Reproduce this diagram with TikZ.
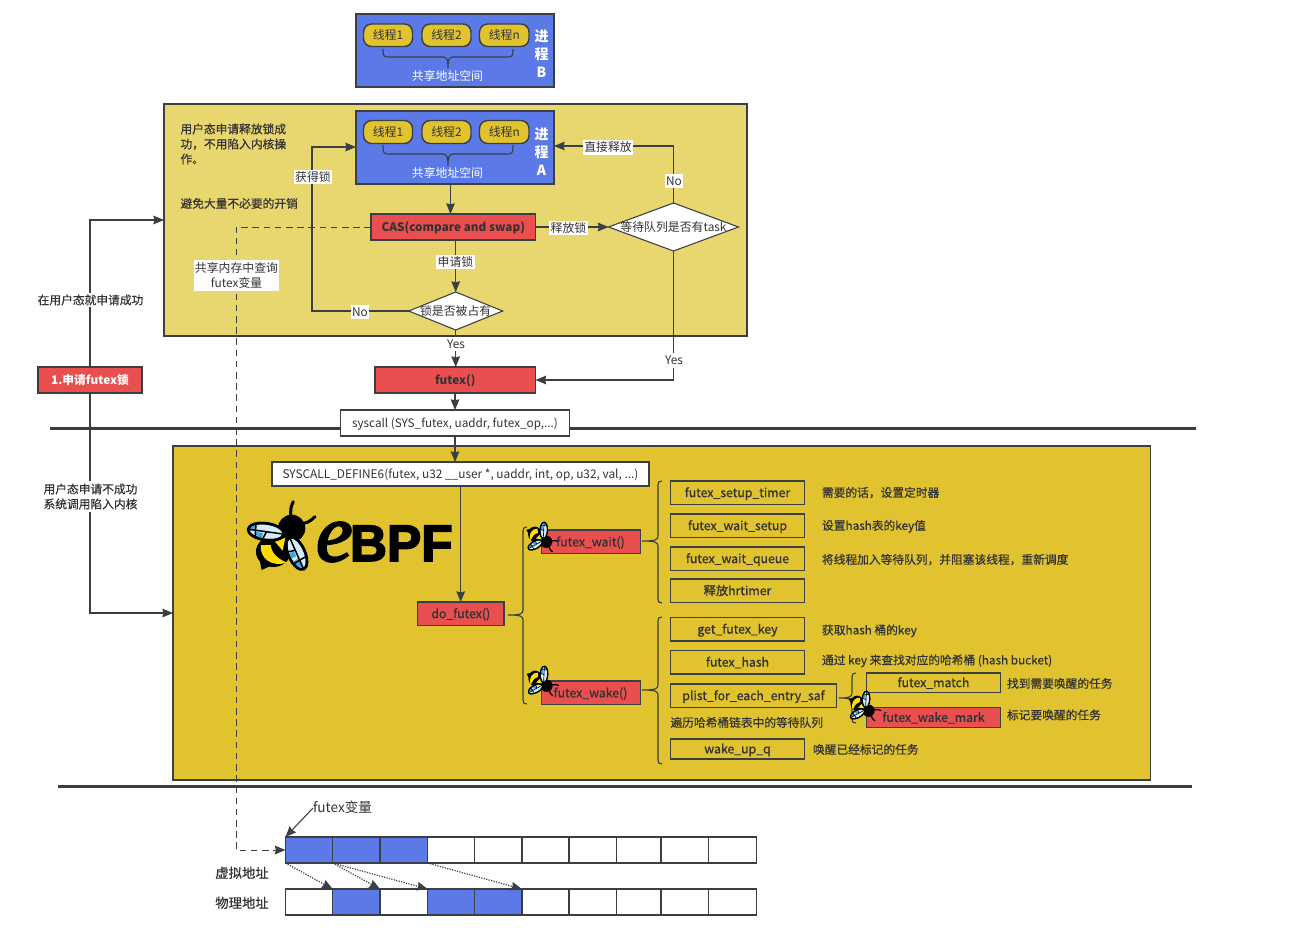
\documentclass[tikz,border=0pt]{standalone}
\usepackage{fontspec}
\setmainfont{Noto Sans CJK SC}
\newfontfamily\med[FakeBold=0.5]{Noto Sans CJK SC}
\newfontfamily\semi[FakeBold=0.9]{Noto Sans CJK SC}
\newfontfamily\lslogo[UprightFont=* Bold,FakeBold=3]{Liberation Sans}
\newfontfamily\lserif[UprightFont=* Italic,FakeBold=2.5]{Liberation Serif}
\usetikzlibrary{arrows.meta,shapes.geometric}
\definecolor{ink}{HTML}{333333}
\definecolor{edge}{HTML}{3A3F44}
\definecolor{pblue}{HTML}{5B7AE8}
\definecolor{ulight}{HTML}{E8D66F}
\definecolor{kyellow}{HTML}{E0C32F}
\definecolor{rred}{HTML}{E94F4F}
\definecolor{pill}{HTML}{E0C32F}
\definecolor{beeblue}{HTML}{3FA6DD}
\definecolor{beepale}{HTML}{D4ECFA}
\definecolor{beeyel}{HTML}{FFDD00}
\newcommand{\basefs}{\fontsize{8.9}{11.25}\selectfont}
\newcommand{\codefs}{\fontsize{9.2}{11.25}\selectfont}
\tikzset{
  x=0.75pt,y=-0.75pt,
  every node/.style={text=ink,inner sep=0pt,outer sep=0pt,font=\basefs,align=center},
  one/.style={text height=6.6pt,text depth=0pt},
  bx/.style={draw=edge,line width=1.1pt,one},
  redbx/.style={bx,fill=rred,font=\codefs\semi},
  strongbx/.style={bx,fill=rred,font=\fontsize{8.8}{11.25}\selectfont\bfseries},
  codebx/.style={bx,font=\codefs\semi},
  whitebx/.style={bx,fill=white,line width=1.1pt,font=\fontsize{8.8}{11.25}\selectfont},
  bluebx/.style={bx,fill=pblue},
  pillbx/.style={bx,fill=pill,rounded corners=6pt,font=\basefs\color{edge}},
  celle/.style={bx,fill=white},
  cellb/.style={bx,fill=pblue},
  arr/.style={draw=edge,line width=0.8pt,-{Stealth[length=8pt,width=6.5pt,inset=0.8pt]}},
  brc/.style={draw=edge,line width=0.85pt},
  lbl/.style={fill=white,inner xsep=1pt,inner ysep=2pt,one},
  lblm/.style={fill=white,inner xsep=1pt,inner ysep=2pt},
  note/.style={anchor=west,font=\fontsize{8.8}{11.25}\selectfont\med,one},
  dia/.style={diamond,draw=edge,line width=0.8pt,fill=white},
  sep/.style={draw=edge,line width=1.7pt},
  dialab/.style={text height=6.6pt,text depth=0pt},
  overtext/.style={font=\codefs\semi,one},
}
\newcommand{\mybox}[7][]{%
  \pgfmathsetmacro{\bw}{0.75*(#5-#3)}%
  \pgfmathsetmacro{\bh}{0.75*(#6-#4)}%
  \pgfmathsetmacro{\bcx}{(#3+#5)/2}%
  \pgfmathsetmacro{\bcy}{(#4+#6)/2}%
  \node[#1,minimum width=\bw pt,minimum height=\bh pt,anchor=center] (#2) at (\bcx,\bcy) {#7};}
\newcommand{\lbr}[5]{%
  \draw[brc] (#1+4,#2) .. controls (#1+1,#2) and (#1,#2+1) .. (#1,#2+4) -- (#1,#3-5)
    .. controls (#1,#3-1) and (#1-3,#3) .. (#5,#3)
    .. controls (#1-3,#3) and (#1,#3+1) .. (#1,#3+5) -- (#1,#4-4)
    .. controls (#1,#4-1) and (#1+1,#4) .. (#1+4,#4);}
\newcommand{\bbr}[6]{%
  \draw[brc] (#1,#4) .. controls (#1,#5-1) and (#1+1,#5) .. (#1+5,#5) -- (#2-5,#5)
    .. controls (#2-1,#5) and (#2,#5+3) .. (#2,#6)
    .. controls (#2,#5+3) and (#2+1,#5) .. (#2+5,#5) -- (#3-5,#5)
    .. controls (#3-1,#5) and (#3,#5-1) .. (#3,#4);}
\newcommand{\bee}[5]{%
  \begin{scope}[shift={(#1,#2)},rotate=#3,scale=#4]
  \begin{scope}[shift={(-115,-135)}]
    \draw[black,line width=1.2*#5,line cap=round] (155,85) .. controls (148,60) and (155,45) .. (160,35);
    \draw[black,line width=1.2*#5,line cap=round] (190,100) .. controls (205,98) and (215,90) .. (225,80);
    \fill[black] (58,205) -- (65,240) -- (95,226) -- cycle;
    \fill[black] (100,185) ellipse [x radius=52,y radius=46];
    \fill[black] (155,115) circle [radius=41];
    \fill[beeyel] (63,165) .. controls (58,205) and (95,232) .. (140,218) .. controls (112,205) and (95,190) .. (92,165) -- cycle;
    \fill[beeyel] (105,155) -- (136,143) -- (128,182) -- cycle;
    \begin{scope}[rotate around={-8:(78,125)}]
      \filldraw[fill=beepale,draw=black,line width=#5] (78,125) ellipse [x radius=54,y radius=25];
      \fill[beeblue] (48,130) -- (70,130) -- (68,147) -- (52,143) -- cycle;
      \fill[beeblue] (28,118) -- (42,112) -- (45,124) -- (32,130) -- cycle;
      \draw[black,line width=0.6*#5] (26,125) -- (130,125) (45,103) -- (48,145) (80,125) -- (70,150);
      \draw[black,line width=#5] (78,125) ellipse [x radius=54,y radius=25];
    \end{scope}
    \begin{scope}[rotate around={-66:(170,190)}]
      \filldraw[fill=beepale,draw=black,line width=#5] (170,190) ellipse [x radius=52,y radius=25];
      \fill[beeblue] (185,192) -- (215,192) -- (210,208) -- (190,212) -- cycle;
      \fill[beeblue] (160,195) -- (178,195) -- (178,213) -- (162,212) -- cycle;
      \draw[black,line width=0.6*#5] (120,190) -- (220,190) (190,168) -- (195,212) (160,190) -- (155,213);
      \draw[black,line width=#5] (170,190) ellipse [x radius=52,y radius=25];
    \end{scope}
  \end{scope}
  \end{scope}}
\begin{document}
\begin{tikzpicture}
\useasboundingbox (0,0) rectangle (1293,939);
\fill[white] (0,0) rectangle (1293,939);

% containers
\mybox[bx,fill=ulight]{ubox}{164}{104}{747}{336}{}
\mybox[bx,fill=kyellow,line width=0.8pt]{kbox}{173}{446}{1150.5}{780}{}

% separators
\coordinate (s1a) at (50,428.5); \coordinate (s1b) at (1196,428.5);
\coordinate (s2a) at (58,786.5); \coordinate (s2b) at (1192,786.5);
\draw[sep] (s1a) -- (s1b);
\draw[sep] (s2a) -- (s2b);

% process B
\mybox[bluebx]{pb}{356}{14}{554}{87}{}
\mybox[pillbx]{pb1}{363.5}{24}{412.5}{46.5}{线程1}
\mybox[pillbx]{pb2}{422}{24}{471}{46.5}{线程2}
\mybox[pillbx]{pb3}{479.5}{24}{529}{46.5}{线程n}
\bbr{383}{448}{513}{49}{57}{68}
\node[text=white,one] (pbt) at (447.5,76.5) {共享地址空间};
\node[text=white,font=\fontsize{10.5}{13.5}\selectfont\bfseries] (pbn) at (541.5,54) {进\\程\\B};

% process A
\mybox[bluebx]{pa}{356}{111}{554}{184}{}
\mybox[pillbx]{pa1}{363.5}{120.5}{412.5}{143.5}{线程1}
\mybox[pillbx]{pa2}{422}{120.5}{471}{143.5}{线程2}
\mybox[pillbx]{pa3}{479.5}{120.5}{529}{143.5}{线程n}
\bbr{383}{448}{513}{145}{154}{166}
\node[text=white,one] (pat) at (447.5,173.5) {共享地址空间};
\node[text=white,font=\fontsize{10.5}{13.5}\selectfont\bfseries] (pan) at (541.5,152) {进\\程\\A};

% user-space notes
\node[anchor=north west,align=left,font=\fontsize{8.8}{11.25}\selectfont\med] (n1) at (180.5,123.5) {用户态申请释放锁成\\功，不用陷入内核操\\作。};
\node[note] (n2) at (180.5,203.5) {避免大量不必要的开销};

% main flow nodes
\mybox[strongbx]{cas}{371}{214}{535.5}{240}{CAS(compare and swap)}
\node[dia,minimum width=70.5pt,minimum height=28.5pt,label={[dialab]center:锁是否被占有}] (lock) at (455.7,311) {};
\node[dia,minimum width=97.5pt,minimum height=36pt,label={[dialab]center:等待队列是否有task}] (wq) at (673.5,227) {};
\mybox[strongbx]{fut}{375}{367}{535.5}{393}{futex()}
\mybox[whitebx]{sys}{340.5}{410}{569.5}{436}{syscall (SYS\_futex, uaddr, futex\_op,...)}
\mybox[strongbx]{app}{38}{367}{142}{393}{\textcolor{white}{1.申请futex锁}}

% kernel nodes
\mybox[whitebx,font=\basefs]{def}{272}{462}{649}{486}{SYSCALL\_DEFINE6(futex, u32 \_\_user *, uaddr, int, op, u32, val, ...)}
\mybox[redbx]{dof}{417.5}{602}{504}{625.5}{do\_futex()}
\mybox[redbx]{wait}{541.5}{530}{640.5}{553.5}{}
\mybox[redbx]{wake}{541.5}{681}{640.5}{704.5}{}
\mybox[codebx]{w1}{670.5}{481}{804.5}{504.5}{futex\_setup\_timer}
\mybox[codebx]{w2}{670.5}{514}{804.5}{537.5}{futex\_wait\_setup}
\mybox[codebx]{w3}{670.5}{547}{804.5}{570.5}{futex\_wait\_queue}
\mybox[codebx]{w4}{670.5}{579}{804.5}{602.5}{释放hrtimer}
\mybox[codebx]{k1}{670.5}{617.5}{804.5}{641}{get\_futex\_key}
\mybox[codebx]{k2}{670.5}{650.5}{804.5}{674}{futex\_hash}
\mybox[codebx]{k3}{670.5}{684}{836.5}{707.5}{plist\_for\_each\_entry\_saf}
\mybox[codebx]{k4}{670.5}{739}{804.5}{759}{wake\_up\_q}
\mybox[codebx]{m1}{866.5}{673}{1000.5}{692.5}{futex\_match}
\mybox[redbx]{m2}{866.5}{707.5}{1000.5}{727.5}{}

% notes
\node[note] (t1) at (822,492.5) {需要的话，设置定时器};
\node[note] (t2) at (822,525.5) {设置hash表的key值};
\node[note] (t3) at (822,559.5) {将线程加入等待队列，并阻塞该线程，重新调度};
\node[note] (t4) at (822,630) {获取hash 桶的key};
\node[note] (t5) at (822,660) {通过 key 来查找对应的哈希桶 (hash bucket)};
\node[note] (t6) at (670.5,722.5) {遍历哈希桶链表中的等待队列};
\node[note] (t7) at (1007,683.5) {找到需要唤醒的任务};
\node[note] (t8) at (1007,715) {标记要唤醒的任务};
\node[note] (t9) at (813,749.5) {唤醒已经标记的任务};

% braces
\lbr{523}{527}{615}{704}{508}
\lbr{658}{481}{541}{603}{642}
\lbr{658}{617}{690}{764}{642}
\lbr{852}{673}{698}{723}{839}

% bees
\bee{278.3}{535}{0}{0.3333}{1.9pt}
\bee{542.7}{536}{-85}{0.15}{0.8pt}
\bee{543}{680}{-85}{0.15}{0.8pt}
\bee{865}{705}{-85}{0.15}{0.8pt}
\node[overtext] (waitt) at (590.5,542) {futex\_wait()};
\node[overtext] (waket) at (590.5,693) {futex\_wake()};
\node[overtext] (m2t) at (933.5,717.5) {futex\_wake\_mark};

% eBPF logo
\node[text=black,anchor=base west,font=\lserif\fontsize{62}{62}\selectfont] (lge) at (316,561) {e};
\node[text=black,anchor=base west,font=\lslogo\fontsize{38.5}{39}\selectfont] (lgb) at (350,561) {BPF};

% helper x positions
\coordinate (xa) at (450.5,0);
\coordinate (xl) at (455.7,0);
\coordinate (xs) at (455,0);
\coordinate (xd) at (460.7,0);

% flow connectors
\draw[arr] (xa |- pa.south) -- (xa |- cas.north);
\draw[arr] (xl |- cas.south) -- (lock.north);
\draw[arr] (cas.east) -- (wq.west);
\coordinate (lockturn) at (312,311);
\coordinate (lockup) at (312,147);
\draw[arr] (lock.west) -- (lockturn) -- (lockup) -- (lockup -| pa.west);
\draw[arr] (lock.south) -- (xl |- fut.north);
\coordinate (wqup) at (673.5,146);
\draw[arr] (wq.north) -- (wqup) -- (wqup -| pa.east);
\coordinate (wqdn) at (673.5,380);
\draw[arr] (wq.south) -- (wqdn) -- (fut.east);
\draw[arr] (xs |- fut.south) -- (xs |- sys.north);
\draw[arr] (xs |- sys.south) -- (xs |- def.north);
\draw[arr] (xd |- def.south) -- (xd |- dof.north);
\coordinate (appu) at (90,220);
\coordinate (appd) at (90,613);
\draw[arr] (app.north -| appu) -- (appu) -- (appu -| ubox.west);
\draw[arr] (app.south -| appd) -- (appd) -- (appd -| kbox.west);

% memory cells
\foreach \i/\xl/\xr/\sty in {0/285.5/332.7/cellb,1/332.7/380/cellb,2/380/427.6/cellb,3/427.6/474.5/celle,4/474.5/521.8/celle,5/521.8/569/celle,6/569/616.7/celle,7/616.7/661/celle,8/661/708.4/celle,9/708.4/756.4/celle}{
  \mybox[\sty]{v\i}{\xl}{837}{\xr}{863}{}
}
\foreach \i/\xl/\xr/\sty in {0/285.5/332.7/celle,1/332.7/380/cellb,2/380/427.6/celle,3/427.6/474.5/cellb,4/474.5/521.8/cellb,5/521.8/569/celle,6/569/616.7/celle,7/616.7/661/celle,8/661/708.4/celle,9/708.4/756.4/celle}{
  \mybox[\sty]{p\i}{\xl}{889}{\xr}{915}{}
}
\node[font=\fontsize{10}{12}\selectfont\med,one] (vl) at (242,873.5) {虚拟地址};
\node[font=\fontsize{10}{12}\selectfont\med,one] (pl) at (242,903.5) {物理地址};
\node[anchor=west,font=\fontsize{10.2}{12}\selectfont,one] (fv) at (313,808) {futex变量};
\draw[arr] (fv.west) -- (v0.north west);

% dotted mapping
\tikzset{dotarr/.style={arr,line width=0.9pt,densely dotted}}
\draw[dotarr] (v0.south west) -- (p0.north east);
\draw[dotarr] (v0.south east) -- (p1.north east);
\draw[dotarr] (v1.south west) -- (p2.north east);
\draw[dotarr] (v2.south east) -- (p4.north east);

% dashed lookup
\coordinate (dsa) at (236,227);
\coordinate (dsb) at (236,850);
\draw[arr,line width=0.75pt,dash pattern=on 5pt off 3.4pt] (cas.west) -- (dsa) -- (dsb) -- (v0.west);

% labels
\node[lbl] at (568.5,228) {释放锁};
\node[lbl] at (455.5,262) {申请锁};
\node[lbl] at (360,312) {No};
\node[lbl] at (313,177) {获得锁};
\node[lbl] at (456,344) {Yes};
\node[lbl] at (674,181) {No};
\node[lbl] at (608,147.5) {直接释放};
\node[lbl] at (674,360.5) {Yes};
\node[lblm] at (236.5,275.5) {共享内存中查询\\futex变量};
\node[lbl,font=\fontsize{8.8}{11.25}\selectfont\med] at (90.5,300) {在用户态就申请成功};
\node[lblm,font=\fontsize{8.8}{11.25}\selectfont\med] at (90.5,496.5) {用户态申请不成功\\系统调用陷入内核};
\end{tikzpicture}
\end{document}
